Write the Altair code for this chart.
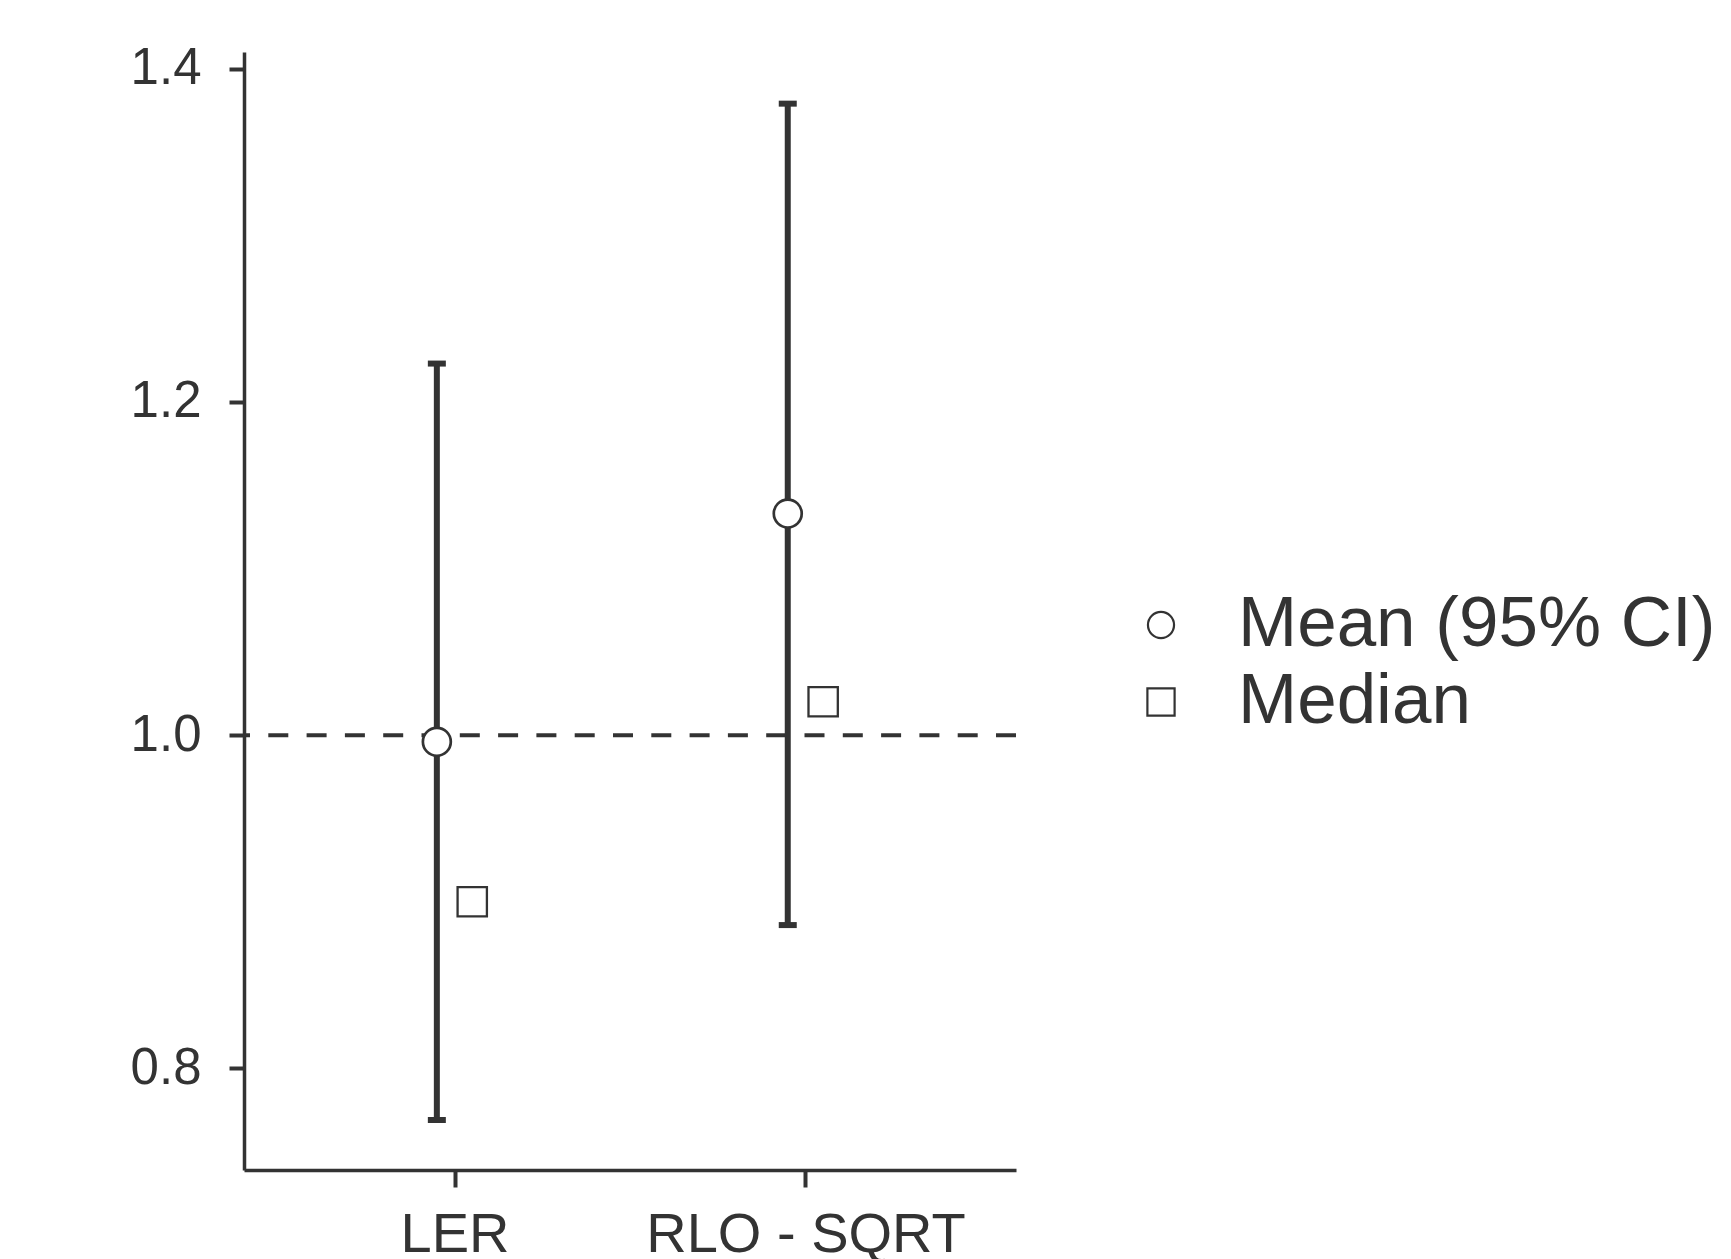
import altair as alt
import pandas as pd

categories = ["LER", "RLO - SQRT"]
mean_vals = [0.996, 1.133]
ci_lower = [0.769, 0.886]
ci_upper = [1.223, 1.379]
median_vals = [0.900, 1.020]
legend_labels = ["Mean (95% CI)", "Median"]
y_ticks = [0.8, 1.0, 1.2, 1.4]

FONT = "Liberation Sans"
INK = "#333333"

mean_df = pd.DataFrame({"cat": categories, "value": mean_vals, "lower": ci_lower,
                        "upper": ci_upper})
med_df = pd.DataFrame({"cat": categories, "value": median_vals})
ref_df = pd.DataFrame({"ref": [1.0]})
leg_df = pd.DataFrame({"stat": legend_labels})

x_enc = alt.X("cat:N", scale=alt.Scale(type="point", padding=0.6, domain=categories),
              axis=alt.Axis(title=None, labelAngle=0, labelFontSize=56, labelPadding=20,
                            labelLimit=1000, tickSize=17, tickWidth=4, domainWidth=3.5))
y_scale = alt.Scale(domain=[0.739, 1.41], nice=False, zero=False)
y_axis = alt.Axis(title=None, values=y_ticks, format=".1f", labelFontSize=51, labelPadding=28,
                  tickSize=15, tickWidth=4, domainWidth=3.5, grid=False)

ref = alt.Chart(ref_df).mark_rule(color=INK, strokeWidth=4, strokeDash=[20, 18.3]).encode(
    y=alt.Y("ref:Q", scale=y_scale, axis=y_axis))

bars = alt.Chart(mean_df).mark_rule(color=INK, strokeWidth=6, xOffset=-17.7).encode(
    x=x_enc, y=alt.Y("lower:Q", scale=y_scale, axis=y_axis), y2="upper:Q")

caps = alt.Chart(mean_df).transform_fold(["lower", "upper"], as_=["end", "v"]).mark_tick(
    color=INK, size=18, thickness=6, xOffset=-17.7, opacity=1).encode(
    x=x_enc, y=alt.Y("v:Q", scale=y_scale, axis=y_axis))

means = alt.Chart(mean_df).mark_point(shape="circle", filled=False, fill="white", color=INK,
                                      strokeWidth=2.7, size=780, opacity=1, fillOpacity=1,
                                      xOffset=-17.7).encode(
    x=x_enc, y=alt.Y("value:Q", scale=y_scale, axis=y_axis))

medians = alt.Chart(med_df).mark_point(shape="square", filled=False, fill="white", color=INK,
                                       strokeWidth=2.3, size=860, opacity=1, fillOpacity=1,
                                       xOffset=17.7).encode(
    x=x_enc, y=alt.Y("value:Q", scale=y_scale, axis=y_axis))

main = alt.layer(ref, bars, caps, means, medians)

# legend, drawn with its own point scale for the two rows
leg_y = alt.Y("stat:N", scale=alt.Scale(type="point", domain=legend_labels,
                                        range=[573, 650], padding=0), axis=None)
leg_circle = alt.Chart(leg_df).transform_filter(alt.datum.stat == legend_labels[0]).mark_point(
    shape="circle", filled=False, fill="white", color=INK, strokeWidth=2.2, size=680,
    opacity=1, fillOpacity=1).encode(x=alt.value(917), y=leg_y)
leg_square = alt.Chart(leg_df).transform_filter(alt.datum.stat == legend_labels[1]).mark_point(
    shape="square", filled=False, fill="white", color=INK, strokeWidth=2.2, size=740,
    opacity=1, fillOpacity=1).encode(x=alt.value(917), y=leg_y)
leg_txt = alt.Chart(leg_df).mark_text(align="left", baseline="middle", fontSize=71, font=FONT,
                                      color=INK).encode(
    x=alt.value(994), y=leg_y, text="stat:N")
legend = alt.layer(leg_circle, leg_square, leg_txt)

chart = alt.layer(main, legend).resolve_scale(y="independent").properties(
    width=772, height=1118,
    background="white",
    autosize=alt.AutoSizeParams(type="none"),
    padding={"left": 236, "top": 44, "right": 700, "bottom": 150},
).configure_view(stroke=None).configure_axis(
    labelFont=FONT, labelColor=INK, domainColor=INK, tickColor=INK
)

chart.save("out.html", embed_options={"renderer": "svg", "actions": False})
